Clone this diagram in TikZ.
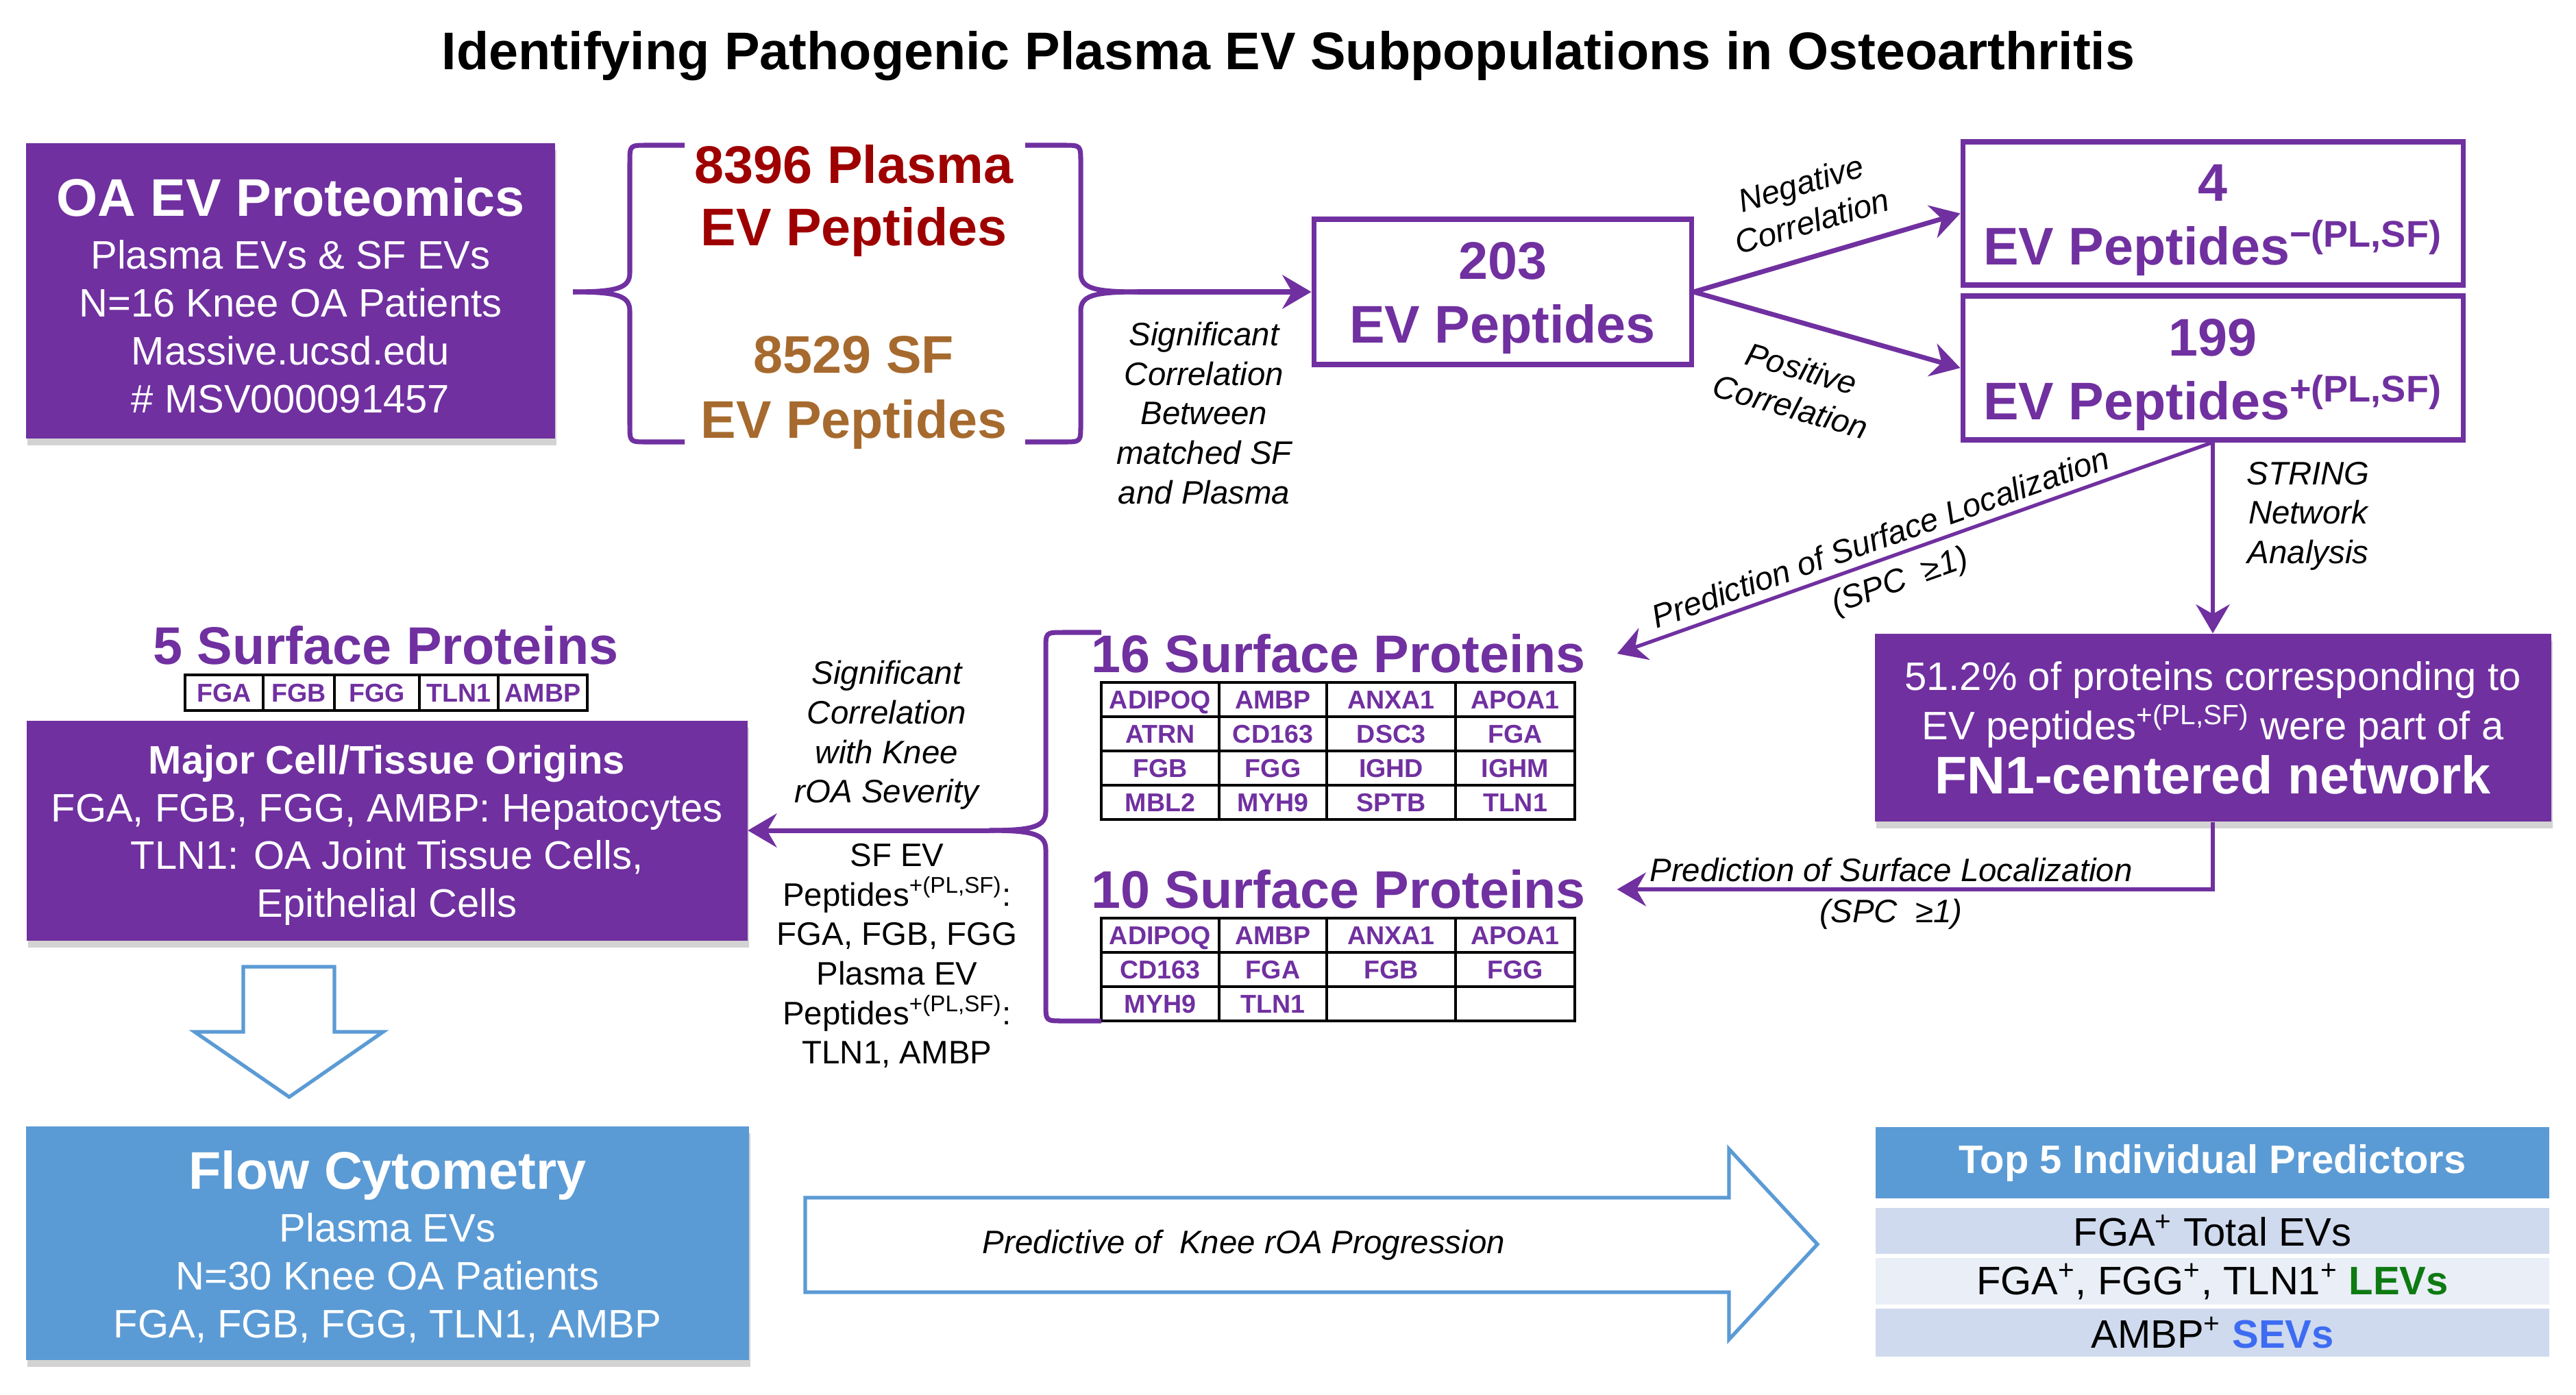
\documentclass[tikz,border=0pt]{standalone}
\usepackage{fontspec}
\setmainfont{Liberation Sans}
\usepackage{tikz}
\usetikzlibrary{arrows.meta}
\usetikzlibrary{positioning}
\usetikzlibrary{shadows}
\definecolor{oapurple}{HTML}{7030A0}
\definecolor{oablue}{HTML}{5B9BD5}
\definecolor{plasmared}{HTML}{9E0000}
\definecolor{sfbrown}{HTML}{A66A2E}
\definecolor{rowdark}{HTML}{CFDAEE}
\definecolor{rowlight}{HTML}{E9EEF7}
\definecolor{levgreen}{HTML}{0E7A12}
\definecolor{sevblue}{HTML}{3D6BF2}
\tikzset{purplebox/.style = {fill = oapurple, text = white, align = center, inner sep = 0, font = \fontsize{16.5}{19.9}\selectfont, drop shadow = {shadow xshift = 0.02cm, shadow yshift = -0.1cm, opacity = 0.35}}}
\tikzset{bluebox/.style = {purplebox, fill = oablue}}
\tikzset{linebox/.style = {draw = oapurple, line width = 2pt, fill = white, text = oapurple, align = center, inner sep = 0, font = \fontsize{22}{26.5}\selectfont\bfseries}}
\tikzset{heading/.style = {text = oapurple, font = \fontsize{22}{26}\selectfont\bfseries, text height = 15.8pt, text depth = 0pt, inner ysep = 0}}
\tikzset{arr/.style = {draw = oapurple, line width = 2pt, -{Stealth[length = 12pt, width = 14pt, inset = 4pt]}}}
\tikzset{thinarr/.style = {arr, line width = 1.5pt}}
\tikzset{pbrace/.style = {draw = oapurple, line width = 2pt}}
\tikzset{lbl/.style = {font = \fontsize{13.5}{16.4}\selectfont\itshape, align = center}}
\tikzset{cell/.style = {text = oapurple, font = \fontsize{10.7}{12}\selectfont\bfseries, text height = 7.7pt, text depth = 0pt, inner sep = 0}}
\tikzset{tabline/.style = {draw = black, line width = 1.2pt}}
\tikzset{hollow/.style = {draw = oablue, line width = 1.5pt, fill = white}}
\tikzset{predrow/.style = {minimum width = 9.83cm, inner sep = 0, font = \fontsize{16.5}{19.8}\selectfont}}

\begin{document}
\begin{tikzpicture}[x = 1cm, y = -1cm]
    \useasboundingbox (0, 0) rectangle (37.59, 20.35);

    \node [font = \fontsize{22}{26}\selectfont\bfseries, anchor = base] (title) at (18.80, 1.01) {Identifying Pathogenic Plasma EV Subpopulations in Osteoarthritis};

    \node [purplebox, minimum width = 7.72cm, minimum height = 4.31cm] (oa) at (4.24, 4.245) {\rule{0pt}{20pt}{\fontsize{22}{26}\selectfont\bfseries OA EV Proteomics}\\[2pt] Plasma EVs \& SF EVs\\ N=16 Knee OA Patients\\ Massive.ucsd.edu\\ \# MSV000091457};

    \coordinate (b1tip) at (8.36, 4.26);
    \draw [pbrace] (9.99, 2.12) -- (9.44, 2.12) .. controls (9.19, 2.12) .. (9.19, 2.37) -- (9.19, 3.98) .. controls (9.19, 4.2) and (9.02, 4.26) .. (b1tip);
    \draw [pbrace] (b1tip) .. controls (9.02, 4.26) and (9.19, 4.32) .. (9.19, 4.54) -- (9.19, 6.20) .. controls (9.19, 6.45) .. (9.44, 6.45) -- (9.99, 6.45);
    \coordinate (b2tip) at (16.60, 4.26);
    \draw [pbrace] (14.96, 2.12) -- (15.52, 2.12) .. controls (15.77, 2.12) .. (15.77, 2.37) -- (15.77, 3.98) .. controls (15.77, 4.2) and (15.94, 4.26) .. (b2tip);
    \draw [pbrace] (b2tip) .. controls (15.94, 4.26) and (15.77, 4.32) .. (15.77, 4.54) -- (15.77, 6.20) .. controls (15.77, 6.45) .. (15.52, 6.45) -- (14.96, 6.45);

    \node [font = \fontsize{22}{25.9}\selectfont\bfseries, text = plasmared, align = center] (plasma) at (12.46, 2.93) {8396 Plasma\\EV Peptides};
    \node [font = \fontsize{22}{27}\selectfont\bfseries, text = sfbrown, align = center] (sf) at (12.46, 5.73) {8529 SF\\EV Peptides};

    \node [linebox, minimum width = 5.51cm, minimum height = 2.12cm] (pep203) at (21.925, 4.26) {\rule{0pt}{20.5pt}203\\EV Peptides};
    \node [linebox, minimum width = 7.30cm, minimum height = 2.09cm] (neg) at (32.29, 3.115) {\rule{0pt}{21pt}4\\EV Peptides\textsuperscript{−(PL,SF)}};
    \node [linebox, minimum width = 7.30cm, minimum height = 2.10cm] (pos) at (32.29, 5.37) {\rule{0pt}{21pt}199\\EV Peptides\textsuperscript{+(PL,SF)}};

    \draw [arr] (b2tip) -- (pep203.west);
    \node [lbl] (sigcorr) at (17.57, 6.03) {Significant\\Correlation\\Between\\matched SF\\and Plasma};
    \draw [arr] (pep203.east) -- (neg.west) node [lbl, pos = 0.48, above = 5pt, sloped] (neglbl) {Negative\\Correlation};
    \draw [arr] (pep203.east) -- (pos.west) node [lbl, pos = 0.45, below = 9pt, sloped] (poslbl) {Positive\\Correlation};

    \node [purplebox, minimum width = 9.87cm, minimum height = 2.74cm, font = \fontsize{16.5}{20.5}\selectfont] (fn1) at (32.29, 10.62) {51.2\% of proteins corresponding to\\ EV peptides\textsuperscript{+(PL,SF)} were part of a\\[2pt] {\fontsize{22}{26}\selectfont\bfseries FN1-centered network}};
    \draw [thinarr] (pos.south) -- (fn1.north);
    \node [lbl] (string) at (33.68, 7.53) {STRING\\Network\\Analysis};

    \node [heading, inner xsep = 0.45cm] (s16) at (19.53, 9.54) {16 Surface Proteins};
    \node [heading, inner xsep = 0.45cm] (s10) at (19.53, 12.98) {10 Surface Proteins};
    \draw [thinarr] (pos.south) -- (s16.east) node [lbl, pos = 0.546, above = 0pt, sloped] (predlbl1) {Prediction of Surface Localization} node [lbl, pos = 0.54, below = 1pt, sloped] (spclbl1) {(SPC \ ≥1)};
    \draw [thinarr] (fn1.south) |- (s10.east) node [lbl, pos = 0.77, above = -1pt] (predlbl2) {Prediction of Surface Localization} node [lbl, pos = 0.77, below = 0pt] (spclbl2) {(SPC \ ≥1)};

    \draw [tabline] (16.07, 9.96) rectangle (22.98, 11.96);
    \foreach \y in {10.46, 10.96, 11.46} \draw [tabline] (16.07, \y) -- (22.98, \y);
    \foreach \x in {17.79, 19.36, 21.24} \draw [tabline] (\x, 9.96) -- (\x, 11.96);
    \foreach \x/\y/\g in {16.93/10.21/ADIPOQ, 18.575/10.21/AMBP, 20.30/10.21/ANXA1, 22.11/10.21/APOA1, 16.93/10.71/ATRN, 18.575/10.71/CD163, 20.30/10.71/DSC3, 22.11/10.71/FGA, 16.93/11.21/FGB, 18.575/11.21/FGG, 20.30/11.21/IGHD, 22.11/11.21/IGHM, 16.93/11.71/MBL2, 18.575/11.71/MYH9, 20.30/11.71/SPTB, 22.11/11.71/TLN1}
        \node [cell] (t16-\g) at (\x, \y) {\g};

    \draw [tabline] (16.07, 13.40) rectangle (22.98, 14.90);
    \foreach \y in {13.90, 14.40} \draw [tabline] (16.07, \y) -- (22.98, \y);
    \foreach \x in {17.79, 19.36, 21.24} \draw [tabline] (\x, 13.40) -- (\x, 14.90);
    \foreach \x/\y/\g in {16.93/13.65/ADIPOQ, 18.575/13.65/AMBP, 20.30/13.65/ANXA1, 22.11/13.65/APOA1, 16.93/14.15/CD163, 18.575/14.15/FGA, 20.30/14.15/FGB, 22.11/14.15/FGG, 16.93/14.65/MYH9, 18.575/14.65/TLN1}
        \node [cell] (t10-\g) at (\x, \y) {\g};

    \coordinate (b3tip) at (14.43, 12.12);
    \draw [pbrace] (16.07, 9.23) -- (15.51, 9.23) .. controls (15.26, 9.23) .. (15.26, 9.48) -- (15.26, 11.84) .. controls (15.26, 12.06) and (15.09, 12.12) .. (b3tip);
    \draw [pbrace] (b3tip) .. controls (15.09, 12.12) and (15.26, 12.18) .. (15.26, 12.40) -- (15.26, 14.65) .. controls (15.26, 14.90) .. (15.51, 14.90) -- (16.07, 14.90);

    \node [heading] (s5) at (5.63, 9.42) {5 Surface Proteins};
    \draw [tabline] (2.70, 9.85) rectangle (8.57, 10.37);
    \foreach \x in {3.84, 4.88, 6.12, 7.27} \draw [tabline] (\x, 9.85) -- (\x, 10.37);
    \foreach \x/\g in {3.27/FGA, 4.36/FGB, 5.50/FGG, 6.695/TLN1, 7.92/AMBP}
        \node [cell] (t5-\g) at (\x, 10.11) {\g};

    \node [purplebox, minimum width = 10.52cm, minimum height = 3.21cm, font = \fontsize{16.5}{19.8}\selectfont] (major) at (5.645, 12.12) {\rule{0pt}{16pt}{\bfseries Major Cell/Tissue Origins}\\ FGA, FGB, FGG, AMBP: Hepatocytes\\ TLN1: OA Joint Tissue Cells,\\ Epithelial Cells};
    \draw [arr] (b3tip) -- (major.east);
    \node [lbl] (sev) at (12.94, 10.73) {Significant\\Correlation\\with Knee\\rOA Severity};
    \node [lbl, font = \fontsize{13.5}{16.4}\selectfont] (sfpep) at (13.09, 13.95) {SF EV\\Peptides\textsuperscript{+(PL,SF)}:\\FGA, FGB, FGG\\Plasma EV\\Peptides\textsuperscript{+(PL,SF)}:\\TLN1, AMBP};

    \draw [hollow] (3.55, 14.11) -- (4.88, 14.11) -- (4.88, 15.06) -- (5.59, 15.06) -- (4.22, 16.01) -- (2.84, 15.06) -- (3.55, 15.06) -- cycle;

    \node [bluebox, minimum width = 10.55cm, minimum height = 3.41cm] (flow) at (5.655, 18.145) {\rule{0pt}{19pt}{\fontsize{22}{26}\selectfont\bfseries Flow Cytometry}\\[2pt] Plasma EVs\\ N=30 Knee OA Patients\\ FGA, FGB, FGG, TLN1, AMBP};

    \draw [hollow] (11.75, 17.48) -- (25.23, 17.48) -- (25.23, 16.77) -- (26.52, 18.16) -- (25.23, 19.55) -- (25.23, 18.86) -- (11.75, 18.86) -- cycle;
    \node [lbl] (predlbl) at (18.15, 18.17) {Predictive of \ Knee rOA Progression};

    \node [predrow, fill = oablue, minimum height = 1.04cm, text = white, font = \fontsize{16.5}{19.8}\selectfont\bfseries] (top5) at (32.285, 16.97) {Top 5 Individual Predictors};
    \node [predrow, fill = rowdark, minimum height = 0.67cm] (row1) at (32.285, 17.965) {FGA\textsuperscript{+} Total EVs};
    \node [predrow, fill = rowlight, minimum height = 0.68cm] (row2) at (32.285, 18.70) {FGA\textsuperscript{+}, FGG\textsuperscript{+}, TLN1\textsuperscript{+} \textcolor{levgreen}{\bfseries LEVs}};
    \node [predrow, fill = rowdark, minimum height = 0.70cm] (row3) at (32.285, 19.45) {AMBP\textsuperscript{+} \textcolor{sevblue}{\bfseries SEVs}};
\end{tikzpicture}
\end{document}
